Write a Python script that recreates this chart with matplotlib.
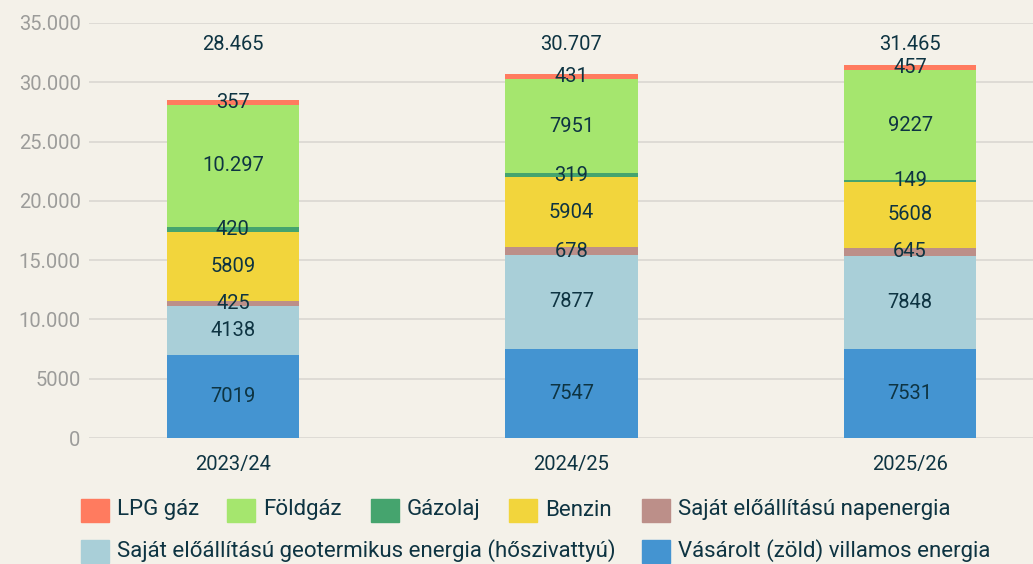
import matplotlib
matplotlib.use('Agg')
import matplotlib.pyplot as plt
from matplotlib.patches import Rectangle

years = ['2023/24', '2024/25', '2025/26']

# bottom -> top
series_names = [
    'Vásárolt (zöld) villamos energia',
    'Saját előállítású geotermikus energia (hőszivattyú)',
    'Saját előállítású napenergia',
    'Benzin',
    'Gázolaj',
    'Földgáz',
    'LPG gáz',
]
vasarolt = [7019, 7547, 7531]
geotermikus = [4138, 7877, 7848]
napenergia = [425, 678, 645]
benzin = [5809, 5904, 5608]
gazolaj = [420, 319, 149]
foldgaz = [10297, 7951, 9227]
lpg = [357, 431, 457]
totals = [28465, 30707, 31465]

yticks = [0, 5000, 10000, 15000, 20000, 25000, 30000, 35000]
ytick_labels = ['0', '5000', '10.000', '15.000', '20.000', '25.000', '30.000', '35.000']

COLORS = ['#4494D1', '#A9CFD8', '#BC8F89', '#F2D53C', '#45A46E', '#A5E66E', '#FF7B5F']
BG = '#F4F1E9'
TEXT = '#0E3442'

plt.rcParams['font.family'] = ['Roboto', 'DejaVu Sans']


def fmt(v):
    return f'{v:,}'.replace(',', '.') if v >= 10000 else str(v)


W, H = 1033, 564
fig = plt.figure(figsize=(W / 100, H / 100), dpi=100, facecolor=BG)
ax = fig.add_axes([89 / W, (H - 438) / H, 1 - 89 / W, (438 - 23) / H])
ax.set_facecolor(BG)

series = [vasarolt, geotermikus, napenergia, benzin, gazolaj, foldgaz, lpg]
x = list(range(len(years)))
bottoms = [0] * len(years)
for vals, color in zip(series, COLORS):
    ax.bar(x, vals, bottom=bottoms, width=0.39, color=color, zorder=3)
    for i, v in enumerate(vals):
        ax.text(i, bottoms[i] + v / 2, fmt(v), ha='center', va='center',
                fontsize=14.5, color=TEXT, zorder=4)
    bottoms = [b + v for b, v in zip(bottoms, vals)]

for i, t in enumerate(totals):
    ax.text(i, 33200, fmt(t), ha='center', va='center', fontsize=14.5, color=TEXT)

ax.set_xlim(-0.425, 2.363)
ax.set_ylim(0, 35000)
ax.set_yticks(yticks)
ax.set_yticklabels(ytick_labels)
ax.set_xticks(x)
ax.set_xticklabels(years)
ax.grid(axis='y', color='#DEDBD5', linewidth=1.4, zorder=0)
ax.tick_params(axis='y', length=0, pad=6, labelsize=14.5, labelcolor='#9C9C9A')
ax.tick_params(axis='x', length=0, pad=12, labelsize=14.5, labelcolor=TEXT)
for s in ax.spines.values():
    s.set_visible(False)

# legend, laid out by hand
legend_items = [
    (6, 81, 510), (5, 227, 510), (4, 371, 510), (3, 509, 510), (2, 642, 510),
    (1, 81, 551), (0, 642, 551),
]
for idx, px, py in legend_items:
    fig.add_artist(Rectangle((px / W, (H - py - 11.5) / H), 28 / W, 23 / H,
                             color=COLORS[idx], transform=fig.transFigure))
    fig.text((px + 36) / W, (H - py) / H, series_names[idx], ha='left', va='center',
             fontsize=16, color=TEXT)

fig.savefig('out.png', dpi=100, facecolor=BG)
